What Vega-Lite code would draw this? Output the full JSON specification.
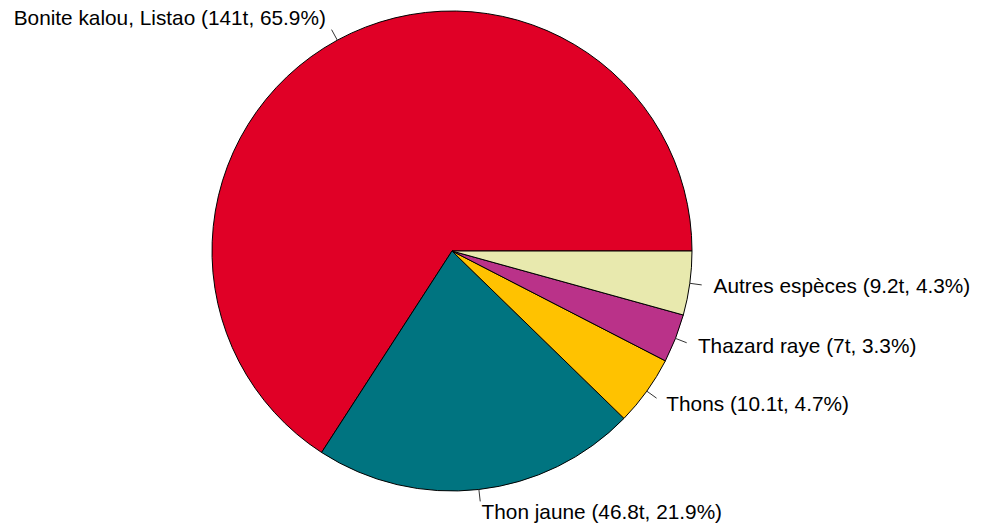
{
  "$schema": "https://vega.github.io/schema/vega-lite/v6.json",
  "width": 904,
  "height": 502,
  "autosize": {"type": "none"},
  "padding": {"left": 0, "top": 0, "right": 77, "bottom": 26},
  "background": "white",
  "config": {"view": {"stroke": null}, "text": {"font": "Liberation Sans"}},
  "data": {
    "values": [
      {"ord": 1, "species": "Bonite kalou, Listao", "t": 141, "label": "Bonite kalou, Listao (141t, 65.9%)"},
      {"ord": 2, "species": "Thon jaune", "t": 46.8, "label": "Thon jaune (46.8t, 21.9%)"},
      {"ord": 3, "species": "Thons", "t": 10.1, "label": "Thons (10.1t, 4.7%)"},
      {"ord": 4, "species": "Thazard raye", "t": 7, "label": "Thazard raye (7t, 3.3%)"},
      {"ord": 5, "species": "Autres espèces", "t": 9.2, "label": "Autres espèces (9.2t, 4.3%)"}
    ]
  },
  "transform": [
    {"window": [{"op": "sum", "field": "t", "as": "cum"}], "sort": [{"field": "ord"}], "frame": [null, 0]},
    {"joinaggregate": [{"op": "sum", "field": "t", "as": "total"}]},
    {"calculate": "datum.cum - datum.t", "as": "start"},
    {"calculate": "2 * PI * (datum.cum - datum.t / 2) / datum.total", "as": "a"},
    {"calculate": "cos(datum.a)", "as": "cx"},
    {"calculate": "sin(datum.a)", "as": "cy"},
    {"calculate": "1.05 * datum.cx", "as": "cx2"},
    {"calculate": "1.05 * datum.cy", "as": "cy2"},
    {"calculate": "1.1 * datum.cx", "as": "lx"},
    {"calculate": "1.1 * datum.cy", "as": "ly"}
  ],
  "layer": [
    {
      "mark": {"type": "arc", "outerRadius": 240, "stroke": "black", "strokeWidth": 1},
      "encoding": {
        "theta": {"field": "start", "type": "quantitative", "scale": {"domain": [0, 214.1], "range": [1.5707963, -4.712389]}},
        "theta2": {"field": "cum"},
        "color": {
          "field": "species", "type": "nominal", "legend": null,
          "scale": {
            "domain": ["Bonite kalou, Listao", "Thon jaune", "Thons", "Thazard raye", "Autres espèces"],
            "range": ["#E00026", "#007480", "#FFC200", "#BA3289", "#E8E9AE"]
          }
        }
      }
    },
    {
      "mark": {"type": "rule", "stroke": "#333333", "strokeWidth": 1},
      "encoding": {
        "x": {"field": "cx", "type": "quantitative", "axis": null, "scale": {"domain": [-1.883333, 1.883333], "nice": false, "zero": false}},
        "y": {"field": "cy", "type": "quantitative", "axis": null, "scale": {"domain": [-1.045833, 1.045833], "nice": false, "zero": false}},
        "x2": {"field": "cx2"},
        "y2": {"field": "cy2"}
      }
    },
    {
      "transform": [{"filter": "datum.cx >= 0"}],
      "mark": {"type": "text", "align": "left", "baseline": "middle", "fontSize": 20.8, "color": "black"},
      "encoding": {
        "x": {"field": "lx", "type": "quantitative"},
        "y": {"field": "ly", "type": "quantitative"},
        "text": {"field": "label"}
      }
    },
    {
      "transform": [{"filter": "datum.cx < 0"}],
      "mark": {"type": "text", "align": "right", "baseline": "middle", "fontSize": 20.8, "color": "black"},
      "encoding": {
        "x": {"field": "lx", "type": "quantitative"},
        "y": {"field": "ly", "type": "quantitative"},
        "text": {"field": "label"}
      }
    }
  ],
  "resolve": {"scale": {"color": "shared"}}
}
